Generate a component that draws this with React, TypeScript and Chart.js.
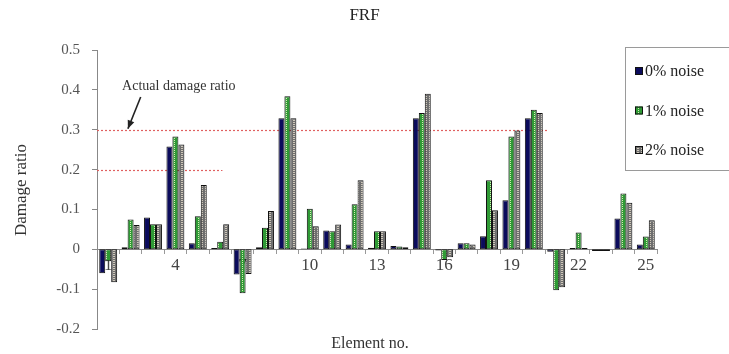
import { useEffect, useRef } from 'react';
import { Chart, registerables } from 'chart.js';

Chart.register(...registerables);

// ---------- data ----------
const elements = [1, 2, 3, 4, 5, 6, 7, 8, 9, 10, 11, 12, 13, 14, 15, 16, 17, 18, 19, 20, 21, 22, 23, 24, 25];
const shownTickLabels = [1, 4, 7, 10, 13, 16, 19, 22, 25];
const seriesNames = ['0% noise', '1% noise', '2% noise'];
const noise0 = [-0.06, 0.005, 0.08, 0.258, 0.015, 0.003, -0.063, 0.005, 0.329, 0.002, 0.047, 0.012, 0.004, 0.008, 0.329, -0.003, 0.015, 0.033, 0.123, 0.329, -0.006, 0.003, -0.004, 0.077, 0.012];
const noise1 = [-0.03, 0.075, 0.063, 0.283, 0.083, 0.019, -0.11, 0.054, 0.384, 0.102, 0.045, 0.113, 0.045, 0.007, 0.342, -0.027, 0.015, 0.173, 0.283, 0.35, -0.103, 0.042, -0.004, 0.14, 0.032];
const noise2 = [-0.083, 0.061, 0.063, 0.263, 0.161, 0.063, -0.062, 0.096, 0.329, 0.058, 0.062, 0.173, 0.045, 0.005, 0.39, -0.02, 0.012, 0.098, 0.298, 0.342, -0.095, 0.003, -0.004, 0.117, 0.073];
const actualDamageValues = [0.3, 0.2];
const actualDamageLineEnds = [20.6, 6.1]; // element number where each dotted line stops
const annotationText = 'Actual damage ratio';
const titleText = 'FRF';
const xTitle = 'Element no.';
const yTitle = 'Damage ratio';
const yMin = -0.2;
const yMax = 0.5;
const yStep = 0.1;

const FONT = "'Liberation Serif', 'Times New Roman', serif";

function makePattern(kind: 'green' | 'grey'): CanvasPattern | string {
  const c = document.createElement('canvas');
  c.width = 4;
  c.height = 4;
  const g = c.getContext('2d');
  if (!g) return kind === 'green' ? '#3a9a3a' : '#8a8a8a';
  if (kind === 'green') {
    g.fillStyle = '#2f9a35';
    g.fillRect(0, 0, 4, 4);
    g.fillStyle = '#d6ecb4';
    g.fillRect(2, 0, 1, 1);
    g.fillRect(2, 2, 1, 1);
  } else {
    g.fillStyle = '#6e6e6e';
    g.fillRect(0, 0, 4, 4);
    g.fillStyle = '#cfc8ba';
    g.fillRect(1, 0, 2, 1);
    g.fillRect(1, 2, 2, 1);
  }
  const p = g.createPattern(c, 'repeat');
  return p || (kind === 'green' ? '#3a9a3a' : '#8a8a8a');
}

export default function App() {
  const ref = useRef<HTMLCanvasElement | null>(null);

  useEffect(() => {
    document.body.style.margin = '0';
    const canvas = ref.current;
    if (!canvas) return;
    const navy = '#0b0b5c';
    const green = makePattern('green');
    const grey = makePattern('grey');
    const fills: (string | CanvasPattern)[] = [navy, green, grey];

    const extras = {
      id: 'extras',
      beforeDatasetsDraw(chart: any) {
        const { ctx, scales } = chart;
        const x = scales.x;
        const y = scales.y;
        ctx.save();
        ctx.strokeStyle = '#e06060';
        ctx.lineWidth = 1.2;
        ctx.setLineDash([2, 2]);
        actualDamageValues.forEach((v, i) => {
          const py = Math.round(y.getPixelForValue(v)) + 0.5;
          ctx.beginPath();
          ctx.moveTo(chart.chartArea.left, py);
          ctx.lineTo(x.getPixelForValue(actualDamageLineEnds[i] - 1), py);
          ctx.stroke();
        });
        ctx.restore();
      },
      afterDraw(chart: any) {
        const { ctx, scales, chartArea } = chart;
        const x = scales.x;
        const y = scales.y;
        ctx.save();
        // title
        ctx.fillStyle = '#222';
        ctx.font = `17px ${FONT}`;
        ctx.textAlign = 'center';
        ctx.textBaseline = 'middle';
        ctx.fillText(titleText, chart.width / 2, 16);
        // x title
        ctx.font = `16px ${FONT}`;
        ctx.fillStyle = '#333';
        ctx.fillText(xTitle, 370, 344);
        // y title
        ctx.save();
        ctx.translate(22, 190);
        ctx.rotate(-Math.PI / 2);
        ctx.font = `17px ${FONT}`;
        ctx.fillText(yTitle, 0, 0);
        ctx.restore();

        // annotation
        ctx.font = `14px ${FONT}`;
        ctx.fillStyle = '#333';
        ctx.textAlign = 'left';
        ctx.fillText(annotationText, x.getPixelForValue(0.62), y.getPixelForValue(0.41));
        const tx = x.getPixelForValue(0.88);
        const ty = y.getPixelForValue(0.3) - 1;
        const sx = x.getPixelForValue(1.45);
        const sy = y.getPixelForValue(0.382);
        ctx.strokeStyle = '#222';
        ctx.lineWidth = 1.6;
        ctx.beginPath();
        ctx.moveTo(sx, sy);
        ctx.lineTo(tx, ty);
        ctx.stroke();
        const ang = Math.atan2(ty - sy, tx - sx);
        ctx.fillStyle = '#222';
        ctx.beginPath();
        ctx.moveTo(tx, ty);
        ctx.lineTo(tx - 9 * Math.cos(ang - 0.4), ty - 9 * Math.sin(ang - 0.4));
        ctx.lineTo(tx - 9 * Math.cos(ang + 0.4), ty - 9 * Math.sin(ang + 0.4));
        ctx.closePath();
        ctx.fill();

        // legend
        const lx = chartArea.right - 32;
        const ltop = 47;
        ctx.strokeStyle = '#9a9a9a';
        ctx.lineWidth = 1;
        ctx.strokeRect(Math.round(lx) + 0.5, ltop + 0.5, 200, 123);
        ctx.font = `16px ${FONT}`;
        ctx.textBaseline = 'middle';
        seriesNames.forEach((name, i) => {
          const cy = 71 + i * 39.5;
          ctx.fillStyle = fills[i] as any;
          ctx.fillRect(lx + 10, cy - 4, 8, 8);
          ctx.strokeStyle = '#111';
          ctx.strokeRect(lx + 10.5, cy - 3.5, 7, 7);
          ctx.fillStyle = '#222';
          ctx.fillText(name, lx + 20, cy + 1);
        });
        ctx.restore();
      },
    };

    const chart = new Chart(canvas, {
      type: 'bar',
      data: {
        labels: elements.map(String),
        datasets: [noise0, noise1, noise2].map((d, i) => ({
          label: seriesNames[i],
          data: d,
          backgroundColor: fills[i] as any,
          borderColor: '#111',
          borderWidth: 1,
          borderSkipped: false,
          categoryPercentage: 0.8,
          barPercentage: 1.0,
        })),
      },
      options: {
        animation: false,
        responsive: false,
        layout: { padding: { top: 50, right: 72, bottom: 25, left: 0 } },
        plugins: {
          legend: { display: false },
          title: { display: false },
          tooltip: { enabled: false },
        },
        scales: {
          x: {
            type: 'category',
            position: { y: 0 } as any,
            offset: true,
            grid: {
              display: true,
              drawOnChartArea: false,
              drawTicks: true,
              tickLength: 4,
              color: '#999',
              offset: true,
            },
            border: { display: true, color: '#888', width: 1 },
            ticks: {
              autoSkip: false,
              maxRotation: 0,
              minRotation: 0,
              padding: 2,
              color: '#444',
              font: { family: FONT, size: 17 },
              callback: (_v: any, idx: number) =>
                shownTickLabels.includes(elements[idx]) ? String(elements[idx]) : '',
            },
          },
          y: {
            min: yMin,
            max: yMax,
            grid: { drawOnChartArea: false, tickLength: 5, color: '#888' },
            border: { display: true, color: '#888', width: 1 },
            ticks: {
              stepSize: yStep,
              padding: 12,
              color: '#555',
              font: { family: FONT, size: 15 },
              callback: (v: any) => (Math.abs(Number(v)) < 1e-9 ? '0' : Number(v).toFixed(1)),
            },
            afterFit: (s: any) => {
              s.width = 97;
            },
          },
        },
      },
      plugins: [extras],
    });
    return () => chart.destroy();
  }, []);

  return (
    <div style={{ width: 729, height: 354 }}>
      <canvas ref={ref} width={729} height={354} style={{ display: 'block' }} />
    </div>
  );
}
